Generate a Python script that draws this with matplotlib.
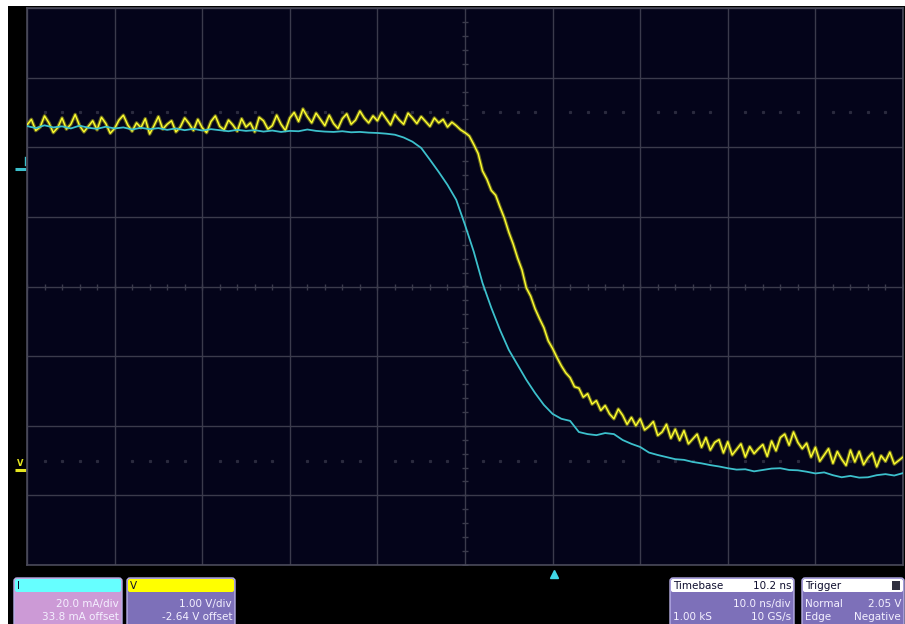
import numpy as np
import matplotlib
matplotlib.use("Agg")
import matplotlib.pyplot as plt
from matplotlib.patches import FancyBboxPatch, Rectangle

# ---------------- data ----------------
# Channel V (yellow), volts, sampled every 0.5 ns from -50 ns to +50 ns
v_time = np.linspace(-50, 50, 201)
v_volts = [
    4.96, 5.04, 4.88, 4.93, 5.09, 4.99, 4.85, 4.92, 5.06, 4.90,
    4.97, 5.11, 4.95, 4.86, 4.94, 5.02, 4.89, 5.07, 4.98, 4.84,
    4.91, 5.03, 5.10, 4.96, 4.87, 4.99, 4.92, 5.05, 4.83, 4.95,
    5.08, 4.90, 4.97, 5.02, 4.86, 4.93, 5.06, 4.98, 4.88, 5.04,
    4.92, 4.85, 5.01, 5.09, 4.94, 4.89, 5.03, 4.96, 4.87, 5.05,
    4.93, 4.99, 4.86, 5.07, 5.02, 4.90, 4.95, 5.10, 4.97, 4.88,
    5.06, 5.14, 5.01, 5.19, 5.08, 4.99, 5.13, 5.04, 4.95, 5.10,
    4.98, 4.91, 5.05, 5.12, 4.97, 5.03, 5.16, 5.06, 4.99, 5.09,
    5.02, 5.14, 5.05, 4.96, 5.11, 5.03, 4.97, 5.13, 5.06, 4.98,
    5.08, 5.01, 4.94, 5.06, 4.99, 5.04, 4.93, 5.00, 4.95, 4.89,
    4.85, 4.80, 4.68, 4.55, 4.30, 4.18, 4.02, 3.95, 3.78, 3.62,
    3.42, 3.25, 3.05, 2.88, 2.62, 2.50, 2.32, 2.18, 2.05, 1.86,
    1.75, 1.62, 1.50, 1.40, 1.33, 1.20, 1.18, 1.05, 1.10, 0.95,
    1.00, 0.86, 0.93, 0.81, 0.74, 0.88, 0.79, 0.66, 0.76, 0.64,
    0.74, 0.58, 0.63, 0.70, 0.50, 0.55, 0.66, 0.46, 0.59, 0.43,
    0.57, 0.38, 0.45, 0.52, 0.33, 0.47, 0.29, 0.40, 0.44, 0.25,
    0.41, 0.22, 0.30, 0.38, 0.19, 0.34, 0.24, 0.31, 0.37, 0.20,
    0.42, 0.28, 0.47, 0.52, 0.36, 0.55, 0.40, 0.31, 0.39, 0.19,
    0.33, 0.13, 0.22, 0.31, 0.10, 0.27, 0.16, 0.07, 0.29, 0.12,
    0.27, 0.08, 0.18, 0.25, 0.05, 0.21, 0.13, 0.26, 0.09, 0.14,
    0.19,
]

# Channel I (cyan), mA, sampled every 1 ns from -50 ns to +50 ns
i_time = np.linspace(-50, 50, 101)
i_milliamps = [
    12.3, 11.7, 12.5, 11.9, 12.2, 11.6, 12.4, 11.8, 11.5, 12.1,
    11.6, 11.9, 11.3, 11.8, 11.4, 11.7, 11.2, 11.6, 11.1, 11.5,
    11.0, 11.4, 11.1, 10.8, 11.2, 10.9, 11.1, 10.7, 11.0, 10.6,
    10.9, 10.8, 11.3, 10.9, 10.7, 10.6, 10.8, 10.5, 10.6, 10.4,
    10.3, 10.1, 9.8, 9.0, 7.8, 6.0, 2.6, -0.9, -4.6, -8.9,
    -16.1, -23.8, -32.8, -39.9, -46.3, -52.0, -56.3, -60.6, -64.4, -67.8,
    -70.4, -71.8, -72.4, -75.6, -76.2, -76.5, -75.9, -76.2, -77.9, -79.0,
    -79.9, -81.5, -82.2, -82.8, -83.4, -83.6, -84.2, -84.6, -85.1, -85.5,
    -86.0, -86.4, -86.3, -86.9, -86.5, -86.1, -86.0, -86.5, -86.6, -87.0,
    -87.5, -87.2, -88.0, -88.6, -88.2, -88.7, -88.6, -88.0, -87.7, -88.1,
    -87.4,
]

# Scope settings
v_per_div = 1.00
v_offset = -2.64
i_per_div = 20.0
i_offset = 33.8
ns_per_div = 10.0
trigger_delay = 10.2

# ---------------- figure ----------------
W, H = 905, 624
fig = plt.figure(figsize=(W / 100, H / 100), dpi=100, facecolor="white")

# overlay in pixel coordinates (background panel + info boxes)
ov = fig.add_axes([0, 0, 1, 1], zorder=0)
ov.set_xlim(0, W)
ov.set_ylim(H, 0)
ov.axis("off")
ov.add_patch(Rectangle((8, 6), W - 8, H - 6, facecolor="black", edgecolor="none"))

# main screen
left, right, top, bottom = 27, 903, 8, 565
ax = fig.add_axes([left / W, (H - bottom) / H, (right - left) / W, (bottom - top) / H], zorder=1)
ax.set_facecolor("#04041a")
ax.set_xlim(-5 * ns_per_div, 5 * ns_per_div)
ax.set_ylim(-4, 4)
ax.set_xticks(np.arange(-5, 6) * ns_per_div)
ax.set_yticks(np.arange(-4, 5))
gridc = "#3b3b4c"
ax.grid(True, color=gridc, lw=1.0)
ax.tick_params(length=0, labelbottom=False, labelleft=False)
for s in ax.spines.values():
    s.set_color("#4a4a5a")
    s.set_linewidth(1.2)

# center-line minor ticks
mx = np.arange(-50, 50.01, 2.0)
ax.plot(mx, np.zeros_like(mx), ls="none", marker="|", ms=5, mew=1.0, color=gridc)
my = np.arange(-4, 4.01, 0.2)
ax.plot(np.zeros_like(my), my, ls="none", marker="_", ms=5, mew=1.0, color=gridc)
# dotted level lines at +-2.5 div
dx = np.array([x for x in np.arange(-48, 50, 2.0) if abs(x % 10) > 1e-6])
for lvl in (2.5, -2.5):
    ax.plot(dx, np.full_like(dx, lvl), ls="none", marker="s", ms=1.3, color="#2a2a3e")

# traces
v_div = (np.array(v_volts) + v_offset) / v_per_div
i_div = (np.array(i_milliamps) + i_offset) / i_per_div
ax.plot(v_time, v_div, color="#8f8f1c", lw=2.6, alpha=0.7, zorder=3)
ax.plot(v_time, v_div, color="#ffff30", lw=1.0, zorder=4)
ax.plot(i_time, i_div, color="#3cc0cc", lw=1.3, zorder=5)

# ground markers
x0 = -5 * ns_per_div
g_v = (0 + v_offset) / v_per_div
g_i = (0 + i_offset) / i_per_div
ax.plot([x0 - 1.4, x0 - 0.15], [g_v, g_v], color="#e6e620", lw=2.2, clip_on=False, solid_capstyle="butt")
ax.text(x0 - 0.8, g_v + 0.03, "V", color="#e6e620", fontsize=6, ha="center", va="bottom",
        clip_on=False, fontweight="bold")
ax.plot([x0 - 1.4, x0 - 0.15], [g_i, g_i], color="#3cc0cc", lw=2.2, clip_on=False, solid_capstyle="butt")
ax.plot([x0 - 0.25, x0 - 0.25], [g_i + 0.05, g_i + 0.17], color="#3cc0cc", lw=1.0, clip_on=False)

# trigger marker
ax.plot([trigger_delay], [-4.13], marker="^", ms=6, color="#40d8e8", clip_on=False, zorder=6)

# ---------------- info boxes ----------------
fs = 7.5
txtc = "#f4f0ff"


def box(x0b, x1b, head_color, body_color, head_left, head_right, lines):
    ov.add_patch(FancyBboxPatch((x0b, 578), x1b - x0b, 60, boxstyle="round,pad=0,rounding_size=3",
                                facecolor=body_color, edgecolor="#b8b0e8", lw=1.0))
    ov.add_patch(FancyBboxPatch((x0b + 1, 579), x1b - x0b - 2, 13, boxstyle="round,pad=0,rounding_size=2",
                                facecolor=head_color, edgecolor="none"))
    ov.text(x0b + 3, 586, head_left, fontsize=fs, color="#101030", ha="left", va="center")
    if head_right:
        ov.text(x1b - 3, 586, head_right, fontsize=fs, color="#101030", ha="right", va="center")
    for (ltxt, rtxt), yy in zip(lines, (604, 617)):
        if ltxt:
            ov.text(x0b + 3, yy, ltxt, fontsize=fs, color=txtc, ha="left", va="center")
        if rtxt:
            ov.text(x1b - 3, yy, rtxt, fontsize=fs, color=txtc, ha="right", va="center")


box(14, 122, "#66ffff", "#cc9ad6", "I", "", [("", "20.0 mA/div"), ("", f"{i_offset:.1f} mA offset")])
box(127, 235, "#ffff00", "#7d70b9", "V", "", [("", f"{v_per_div:.2f} V/div"), ("", f"{v_offset:.2f} V offset")])
box(670, 794, "#ffffff", "#7d70b9", "Timebase", f"{trigger_delay:.1f} ns",
    [("", f"{ns_per_div:.1f} ns/div"), ("1.00 kS", "10 GS/s")])
box(802, 904, "#ffffff", "#7d70b9", "Trigger", "", [("Normal", "2.05 V"), ("Edge", "Negative")])
ov.add_patch(Rectangle((892, 581), 8, 9, facecolor="#303040", edgecolor="none"))

fig.savefig("out.png", dpi=100, facecolor=fig.get_facecolor())
